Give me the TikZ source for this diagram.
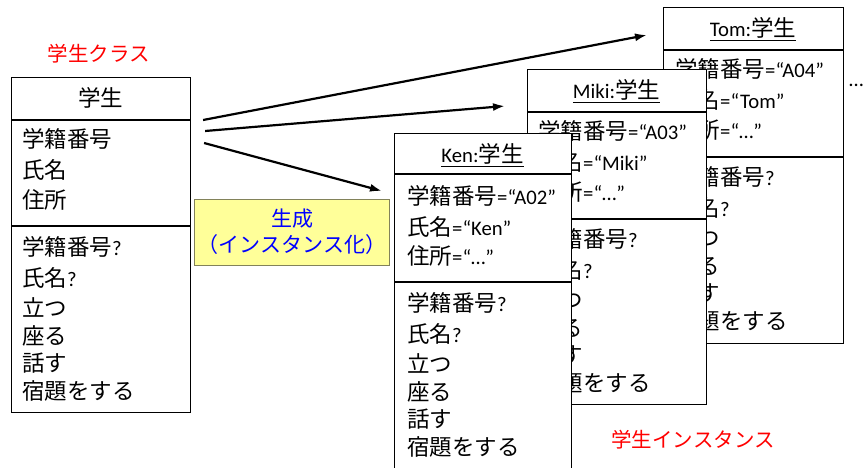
\documentclass[tikz,border=0pt]{standalone}
\usepackage{fontspec}
\setmainfont{Noto Sans CJK JP}
\newfontfamily\lat[Scale=0.92]{Carlito}
\usetikzlibrary{arrows.meta}
\definecolor{genfill}{RGB}{255,255,153}
\definecolor{genline}{RGB}{130,130,90}

\begin{document}
\begin{tikzpicture}[x=1pt, y=-1pt,
    box/.style = {draw, fill=white, line width=1.1pt, anchor=north west, minimum width=179pt, inner sep=0pt},
    txt/.style = {anchor=west, inner sep=0pt, font=\fontsize{22.5}{26}\selectfont},
    ttl/.style = {inner sep=0pt, font=\fontsize{22.5}{26}\selectfont},
    sep/.style = {line width=1.1pt},
    lbl/.style = {text=red, inner sep=0pt, font=\fontsize{20.5}{24}\selectfont},
    arr/.style = {-{Latex[length=12pt,width=8pt]}, line width=2.2pt}]
    \useasboundingbox (0,0) rectangle (864,467);
    \clip (0,0) rectangle (864,467);

    % class
    \node[lbl] at (99,54) (lc) {学生クラス};
    \node[box, minimum height=335pt] at (11,77) (cls) {};
    \draw[sep] ([yshift=-43pt]cls.north west) -- ([yshift=-43pt]cls.north east);
    \draw[sep] ([yshift=-149pt]cls.north west) -- ([yshift=-149pt]cls.north east);
    \node[ttl] at (100.5,98) (c0) {学生};
    \node[txt] at (22,139) (c1) {学籍番号};
    \node[txt] at (22,170) (c2) {氏名};
    \node[txt] at (22,200) (c3) {住所};
    \node[txt] at (22,247) (c4) {学籍番号{\lat ?}};
    \node[txt] at (22,278) (c5) {氏名{\lat ?}};
    \node[txt] at (22,307) (c6) {立つ};
    \node[txt] at (22,336) (c7) {座る};
    \node[txt] at (22,363) (c8) {話す};
    \node[txt] at (22,391) (c9) {宿題をする};

    % instance Tom
    \node[box, minimum width=180pt, minimum height=336pt] at (663,7) (tom) {};
    \draw[sep] ([yshift=-43pt]tom.north west) -- ([yshift=-43pt]tom.north east);
    \draw[sep] ([yshift=-150pt]tom.north west) -- ([yshift=-150pt]tom.north east);
    \node[ttl] at (753,29) (t0) {\underline{{\lat Tom:}学生}};
    \node[txt] at (675,69) (t1) {学籍番号{\lat =“A04”}};
    \node[txt] at (675,100) (t2) {氏名{\lat =“Tom”}};
    \node[txt] at (675,130) (t3) {住所{\lat =“…”}};
    \node[txt] at (675,177) (t4) {学籍番号{\lat ?}};
    \node[txt] at (675,208) (t5) {氏名{\lat ?}};
    \node[txt] at (675,237) (t6) {立つ};
    \node[txt] at (675,266) (t7) {座る};
    \node[txt] at (675,293) (t8) {話す};
    \node[txt] at (675,321) (t9) {宿題をする};
    \node[txt] at (849,85) (more) {\lat …};

    % instance Miki
    \node[box, minimum height=335pt] at (527,69) (miki) {};
    \draw[sep] ([yshift=-43pt]miki.north west) -- ([yshift=-43pt]miki.north east);
    \draw[sep] ([yshift=-150pt]miki.north west) -- ([yshift=-150pt]miki.north east);
    \node[ttl] at (616.5,91) (m0) {\underline{{\lat Miki:}学生}};
    \node[txt] at (538,131) (m1) {学籍番号{\lat =“A03”}};
    \node[txt] at (538,162) (m2) {氏名{\lat =“Miki”}};
    \node[txt] at (538,192) (m3) {住所{\lat =“…”}};
    \node[txt] at (538,239) (m4) {学籍番号{\lat ?}};
    \node[txt] at (538,270) (m5) {氏名{\lat ?}};
    \node[txt] at (538,299) (m6) {立つ};
    \node[txt] at (538,328) (m7) {座る};
    \node[txt] at (538,355) (m8) {話す};
    \node[txt] at (538,383) (m9) {宿題をする};

    % instance Ken
    \node[box, minimum width=177pt, minimum height=345pt] at (394,133) (ken) {};
    \draw[sep] ([yshift=-41pt]ken.north west) -- ([yshift=-41pt]ken.north east);
    \draw[sep] ([yshift=-149pt]ken.north west) -- ([yshift=-149pt]ken.north east);
    \node[ttl] at (482.5,155) (k0) {\underline{{\lat Ken:}学生}};
    \node[txt] at (407,196) (k1) {学籍番号{\lat =“A02”}};
    \node[txt] at (407,227) (k2) {氏名{\lat =“Ken”}};
    \node[txt] at (407,256) (k3) {住所{\lat =“…”}};
    \node[txt] at (407,303) (k4) {学籍番号{\lat ?}};
    \node[txt] at (407,334) (k5) {氏名{\lat ?}};
    \node[txt] at (407,363) (k6) {立つ};
    \node[txt] at (407,392) (k7) {座る};
    \node[txt] at (407,419) (k8) {話す};
    \node[txt] at (407,447) (k9) {宿題をする};
    \node[lbl] at (693,440) (li) {学生インスタンス};

    % generation
    \node[draw=genline, fill=genfill, line width=1pt, minimum width=186pt, minimum height=66pt,
          align=center, text=blue, font=\fontsize{21}{26}\selectfont] at (292,232) (gen) {生成\\（インスタンス化）};

    \coordinate (s1) at ([xshift=12pt,yshift=-43pt]cls.north east);
    \coordinate (s2) at ([xshift=14pt,yshift=-54pt]cls.north east);
    \coordinate (s3) at ([xshift=13pt,yshift=-66pt]cls.north east);
    \coordinate (e1) at ([xshift=-16pt,yshift=-28pt]tom.north west);
    \coordinate (e2) at ([xshift=-22pt,yshift=-37pt]miki.north west);
    \coordinate (e3) at ([xshift=-12pt,yshift=-58pt]ken.north west);
    \draw[arr] (s1) -- (e1);
    \draw[arr] (s2) -- (e2);
    \draw[arr] (s3) -- (e3);
\end{tikzpicture}
\end{document}
